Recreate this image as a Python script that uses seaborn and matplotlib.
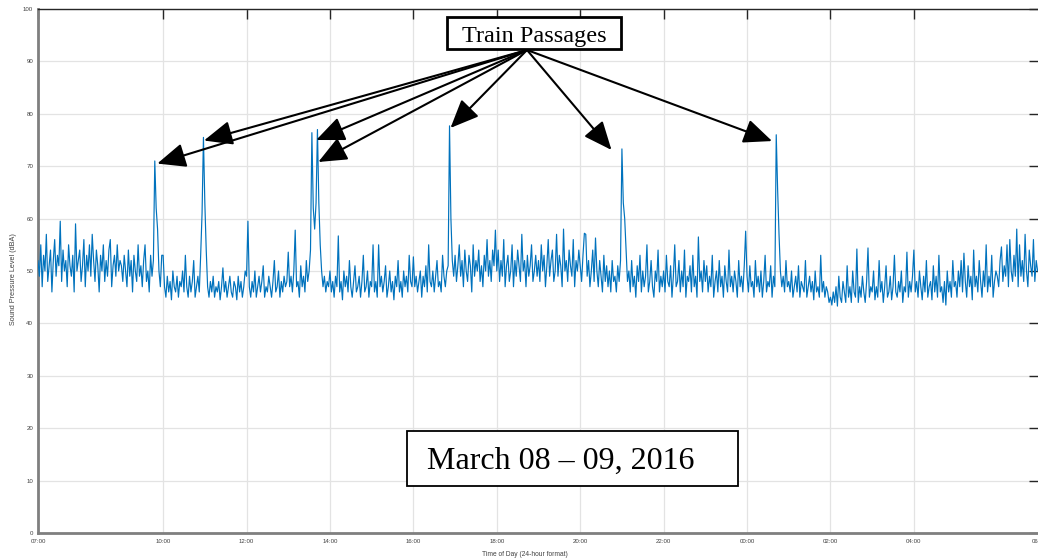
import numpy as np
import pandas as pd
import seaborn as sns
import matplotlib
matplotlib.use("Agg")
import matplotlib.pyplot as plt
from matplotlib.patches import Rectangle

# Sound pressure level (dBA), one reading every 2 minutes, grouped by clock hour
spl_07 = [52, 49, 55, 47, 53, 50, 57, 48, 51, 54, 46, 52, 56, 49, 53, 51, 59.5, 48, 54, 50, 52, 47, 55, 51, 49, 53, 46, 59, 50, 52]
spl_08 = [54, 48, 51, 56, 47, 53, 50, 55, 49, 57, 52, 48, 54, 51, 46, 53, 50, 55, 48, 52, 49, 54, 56, 47, 51, 53, 49, 55, 50, 52]
spl_09 = [51, 48, 53, 50, 47, 54, 49, 52, 46, 53, 50, 48, 55, 49, 51, 47, 52, 55, 48, 50, 46, 53, 49, 52, 71, 62, 58, 50, 47, 53]
spl_10 = [53, 47, 45, 49, 46, 48, 44.5, 50, 47, 46, 49, 45, 48, 47, 50, 46, 53, 47, 45, 49, 46, 48, 52, 45, 47, 49, 46, 53, 61, 75.5]
spl_11 = [63, 54, 47, 45, 48, 46, 49, 45, 47, 46, 48, 44.5, 47, 50.6, 46, 48, 45, 47, 49, 46, 45, 48, 47, 44.5, 49, 46, 48, 45, 47, 50]
spl_12 = [49, 59.5, 47, 45, 48, 46, 50, 45, 47, 49, 46, 48, 51, 45, 47, 46, 49, 47, 45, 48, 52, 46, 47, 50, 45, 48, 46, 49, 47, 48]
spl_13 = [53.6, 47, 49, 46, 50, 57.8, 47, 48, 45, 51, 47, 49, 46, 52, 48, 50, 54, 76.4, 62, 58, 63, 77, 63, 55, 50, 47, 49, 46, 48, 47]
spl_14 = [50, 46, 48, 45, 49, 47, 56.7, 46, 48, 44.5, 50, 47, 49, 46, 52, 47, 45, 48, 51, 46, 47, 49, 45, 48, 53, 46, 47, 50, 45, 48]
spl_15 = [47, 55, 46, 48, 45, 55, 47, 49, 46, 48, 51, 45, 47, 50, 46, 48, 44.5, 49, 47, 52, 46, 48, 45, 50, 47, 49, 46, 53, 48, 47]
spl_16 = [52.7, 47, 49, 46, 48, 50, 45, 49, 47, 51, 46, 55, 48, 47, 50, 46, 49, 52, 47, 48, 46, 53, 49, 47, 50, 51, 77.7, 60, 52, 49]
spl_17 = [53, 48, 51, 55, 49, 52, 47, 54, 50, 48, 53, 51, 46, 55, 49, 52, 50, 54, 48, 51, 47, 53, 50, 56, 49, 52, 48, 54, 51, 57.8]
spl_18 = [50, 54, 48, 52, 49, 56, 47, 51, 53, 48, 50, 55, 47, 52, 49, 54, 51, 48, 57, 50, 52, 47, 53, 49, 51, 55, 48, 50, 53, 49]
spl_19 = [52, 48, 55, 50, 53, 47, 51, 56, 49, 52, 54, 48, 50, 57, 49, 53, 51, 47, 58, 50, 52, 48, 54, 51, 49, 56, 47, 52, 50, 54]
spl_20 = [51, 48, 53, 57.2, 57, 49, 52, 47, 50, 54, 48, 56.3, 50, 47, 52, 49, 46, 53, 48, 51, 47, 50, 46, 52, 48, 49, 46, 51, 48, 52]
spl_21 = [73.3, 63, 60, 54, 48, 50, 46, 52, 47, 49, 45, 51, 48, 53, 46, 50, 47, 49, 55, 46, 48, 52, 47, 45, 50, 48, 54, 46, 49, 47]
spl_22 = [50, 46, 53, 48, 47, 51, 45, 49, 55, 47, 48, 52, 46, 50, 47, 54, 45, 49, 48, 51, 46, 53, 47, 49, 45, 56.5, 48, 50, 46, 52]
spl_23 = [48, 51, 46, 49, 47, 53, 45, 48, 50, 46, 52, 47, 49, 45, 51, 48, 46, 54, 47, 49, 46, 50, 48, 45, 52, 47, 49, 46, 51, 57.6]
spl_00 = [49, 46, 51, 47, 48, 45, 52, 47, 49, 46, 50, 45, 48, 53, 46, 48, 47, 51, 45, 49, 47, 76, 65.5, 57, 50, 47, 49, 46, 52, 47]
spl_01 = [48, 46, 50, 45, 47, 49, 46, 51, 45, 48, 47, 46, 52, 45, 47, 49, 46, 48, 44.5, 50, 46, 47, 45, 53, 46, 48, 45, 47, 46, 44]
spl_02 = [45, 43.5, 46, 44, 47, 43.3, 49, 45, 44, 48, 46, 44, 51, 45, 47, 44, 50, 46, 45, 54.2, 44, 47, 45, 49, 46, 44, 48, 54.4, 45, 47]
spl_03 = [46, 50, 44.5, 47, 45, 52, 46, 48, 44, 47, 51, 45, 46, 49, 44.5, 47, 53, 46, 45, 48, 46, 50, 44, 47, 46, 53.6, 45, 48, 46, 49]
spl_04 = [54, 46, 48, 45, 50, 47, 44.5, 49, 46, 52, 45, 47, 48, 44.5, 51, 46, 49, 45, 53, 46, 47, 44, 48, 43.5, 50, 46, 48, 45, 52, 47]
spl_05 = [48, 45, 50, 47, 52, 46, 53.4, 48, 45, 51, 47, 49, 44.5, 54, 47, 49, 46, 52, 48, 45, 50, 47, 55, 46, 49, 47, 53, 45, 48, 50]
spl_06 = [49, 47, 52, 54.6, 48, 51, 49, 55, 47, 56, 50, 48, 53, 49, 58, 47, 55, 49, 52, 48, 57, 50, 47, 54, 51, 49, 56, 48, 52, 50]

hourly = [spl_07, spl_08, spl_09, spl_10, spl_11, spl_12, spl_13, spl_14,
          spl_15, spl_16, spl_17, spl_18, spl_19, spl_20, spl_21, spl_22,
          spl_23, spl_00, spl_01, spl_02, spl_03, spl_04, spl_05, spl_06]

tick_hours = [7, 10, 12, 14, 16, 18, 20, 22, 24, 26, 28, 31]
tick_labels = ["07:00", "10:00", "12:00", "14:00", "16:00", "18:00", "20:00",
               "22:00", "00:00", "02:00", "04:00", "06:59"]

# Arrow tips pointing at each train passage (hours since midnight, dBA)
passage_tips = [(9.86, 70.5), (10.98, 74.9), (13.67, 75.0), (13.72, 70.8),
                (16.89, 77.3), (20.75, 73.1), (24.60, 74.8)]

level = np.concatenate([np.asarray(h, dtype=float) for h in hourly])
hours = 7 + np.arange(level.size) / 30.0
df = pd.DataFrame({"time": hours, "spl": level})

sns.set_style("whitegrid")
plt.rcParams["font.family"] = ["Liberation Sans", "DejaVu Sans"]

W, H = 1038, 560
fig = plt.figure(figsize=(W / 100, H / 100), dpi=100)
ax = fig.add_axes([38 / W, 27 / H, 1001 / W, 524 / H])

sns.lineplot(data=df, x="time", y="spl", ax=ax, color="#0072BD",
             linewidth=0.85, zorder=3)

ax.set_xlim(7, 31)
ax.set_ylim(0, 100)
ax.set_yticks(range(0, 101, 10))
ax.set_xticks(tick_hours)
ax.set_xticklabels(tick_labels)

ax.grid(True, color="#e3e3e3", linewidth=0.9)
ax.tick_params(axis="both", which="major", direction="in", length=7.5,
               width=1.0, color="#262626", labelsize=4.4, labelcolor="#404040",
               top=True, right=True, pad=3.5)
ax.tick_params(axis="x", pad=4.5)

for side in ("left", "bottom"):
    ax.spines[side].set_color("#7f7f7f")
    ax.spines[side].set_linewidth(2.0)
ax.spines["top"].set_color("#262626")
ax.spines["top"].set_linewidth(1.0)
ax.spines["right"].set_visible(False)

ax.set_xlabel("Time of Day (24-hour format)", fontsize=4.8, color="#404040")
ax.set_ylabel("Sound Pressure Level (dBA)", fontsize=5.2, color="#404040")
ax.xaxis.set_label_coords((525 - 38) / 1001, -0.034)
ax.yaxis.set_label_coords(-0.021, 0.485)

# Arrows from the label box to each train passage peak
tail = (527 / W, 1 - 50 / H)
for tip in passage_tips:
    ax.annotate("", xy=tip, xycoords="data", xytext=tail,
                textcoords="figure fraction",
                arrowprops=dict(arrowstyle="-|>,head_length=0.7,head_width=0.3",
                                mutation_scale=25, color="black", lw=1.5,
                                shrinkA=0, shrinkB=0),
                zorder=5)

serif = ["Liberation Serif", "DejaVu Serif"]

fig.add_artist(Rectangle((447 / W, 1 - 49 / H), 174 / W, 32 / H,
                         transform=fig.transFigure, facecolor="white",
                         edgecolor="black", linewidth=2.0, zorder=10))
fig.text(534.5 / W, 1 - 42 / H, "Train Passages", ha="center", va="baseline",
         fontsize=17.5, family=serif, color="black", zorder=11)

fig.add_artist(Rectangle((407 / W, 1 - 486 / H), 331 / W, 55 / H,
                         transform=fig.transFigure, facecolor="white",
                         edgecolor="black", linewidth=1.3, zorder=10))
fig.text(427 / W, 1 - 469 / H, "March 08 \u2013 09, 2016", ha="left",
         va="baseline", fontsize=23, family=serif, color="black", zorder=11)

fig.savefig("out.png", dpi=100)
